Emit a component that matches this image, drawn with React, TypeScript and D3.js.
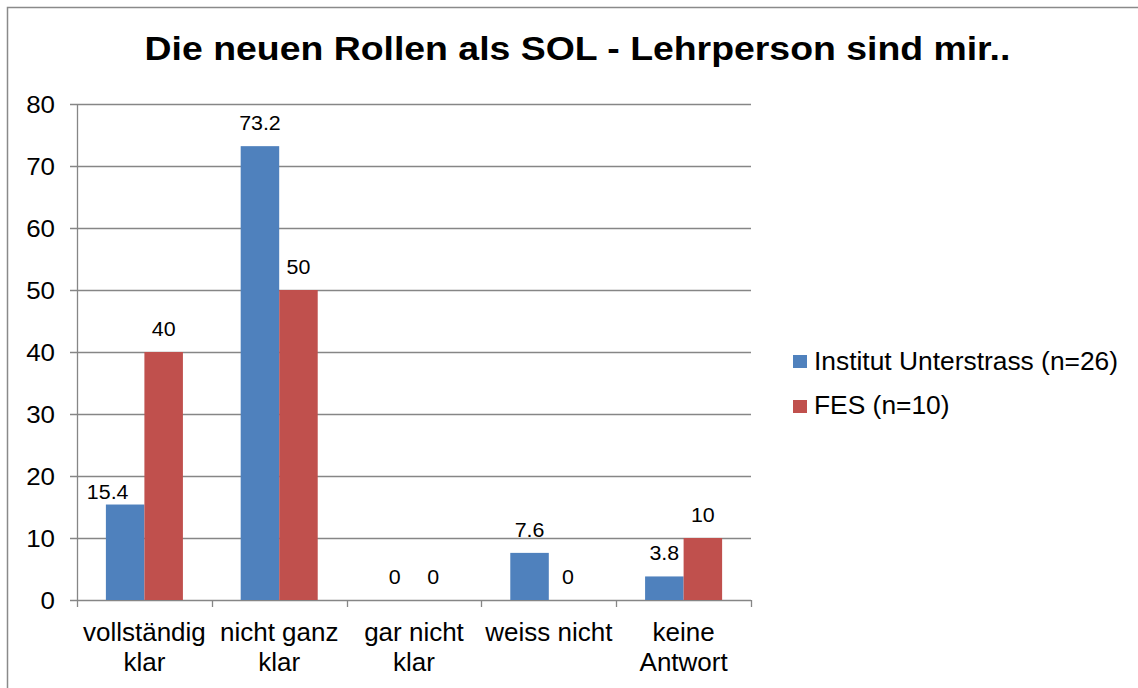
import React from "react";
import * as d3 from "d3";

const categories: string[][] = [
  ["vollständig", "klar"],
  ["nicht ganz", "klar"],
  ["gar nicht", "klar"],
  ["weiss nicht"],
  ["keine", "Antwort"],
];
const seriesNames = ["Institut Unterstrass (n=26)", "FES (n=10)"];
const unterstrass = [15.4, 73.2, 0, 7.6, 3.8];
const fes = [40, 50, 0, 0, 10];
const yTicks = [0, 10, 20, 30, 40, 50, 60, 70, 80];
const title = "Die neuen Rollen als SOL - Lehrperson sind mir..";

const COLORS = ["#4F81BD", "#C0504D"];
const GRID = "#868686";
const FONT = "Arial, 'Liberation Sans', sans-serif";

// label nudges (collision avoidance as in original), keyed by series/category
const nudge: Record<string, [number, number]> = { "0-0": [-17.5, 10] };

export default function App() {
  const W = 1138, H = 688;
  const left = 77, right = 751, top = 104, bottom = 600;
  const x = d3.scaleBand<number>().domain(d3.range(categories.length)).range([left, right]).paddingInner(0).paddingOuter(0);
  const y = d3.scaleLinear().domain([0, 80]).range([bottom, top]);
  const bw = x.bandwidth();
  const barW = bw / 3.5;
  const series = [unterstrass, fes];

  const T = (props: any) => {
    const { x: tx, y: ty, children, sx = 1, ...rest } = props;
    return (
      <text transform={`translate(${tx},${ty}) scale(${sx},1)`} fontFamily={FONT} fill="#000" {...rest}>
        {children}
      </text>
    );
  };

  return (
    <svg width={W} height={H} style={{ position: "absolute", left: 0, top: 0, background: "#fff" }}>
      <rect x={0} y={0} width={W} height={H} fill="#fff" />
      <path d={`M7.5,${H + 5}V7.5H${W + 5}`} fill="none" stroke="#8a8a8a" strokeWidth={1.5} />
      <T x={577.5} y={60} fontSize={34} fontWeight="bold" textAnchor="middle" sx={1.1}>
        {title}
      </T>
      {yTicks.map((t) => (
        <g key={t}>
          <line x1={70} x2={right} y1={Math.round(y(t)) + 0.5} y2={Math.round(y(t)) + 0.5} stroke={GRID} strokeWidth={1.3} />
          <T x={55} y={y(t) + 8.6} fontSize={24} textAnchor="end" sx={1.08}>
            {t}
          </T>
        </g>
      ))}
      <line x1={left + 0.5} x2={left + 0.5} y1={top} y2={bottom} stroke={GRID} strokeWidth={1.3} />
      {d3.range(categories.length + 1).map((i) => {
        const xx = Math.round(left + i * bw) + 0.5;
        return <line key={i} x1={xx} x2={xx} y1={bottom} y2={bottom + 7} stroke={GRID} strokeWidth={1.3} />;
      })}
      {series.map((vals, si) =>
        vals.map((v, ci) => {
          const cx = (x(ci) as number) + bw / 2;
          const bx = cx - barW + si * barW;
          return (
            <rect key={`${si}-${ci}`} x={bx} y={y(v)} width={barW} height={bottom - y(v)} fill={COLORS[si]} />
          );
        })
      )}
      {series.map((vals, si) =>
        vals.map((v, ci) => {
          const cx = (x(ci) as number) + bw / 2;
          const lx = cx - barW / 2 + si * barW;
          const [dx, dy] = nudge[`${si}-${ci}`] || [0, 0];
          return (
            <T key={`l${si}-${ci}`} x={lx + dx} y={y(v) - 16 + dy} fontSize={20} textAnchor="middle" sx={1.07}>
              {String(v)}
            </T>
          );
        })
      )}
      {categories.map((lines, ci) => {
        const cx = (x(ci) as number) + bw / 2;
        return lines.map((ln, li) => (
          <T key={`c${ci}-${li}`} x={cx} y={641 + li * 30} fontSize={25} textAnchor="middle" sx={1.04}>
            {ln}
          </T>
        ));
      })}
      {seriesNames.map((n, i) => (
        <g key={n}>
          <rect x={793} y={355 + i * 45} width={14} height={13} fill={COLORS[i]} />
          <T x={814} y={370 + i * 44} fontSize={25} sx={1.055}>
            {n}
          </T>
        </g>
      ))}
    </svg>
  );
}
